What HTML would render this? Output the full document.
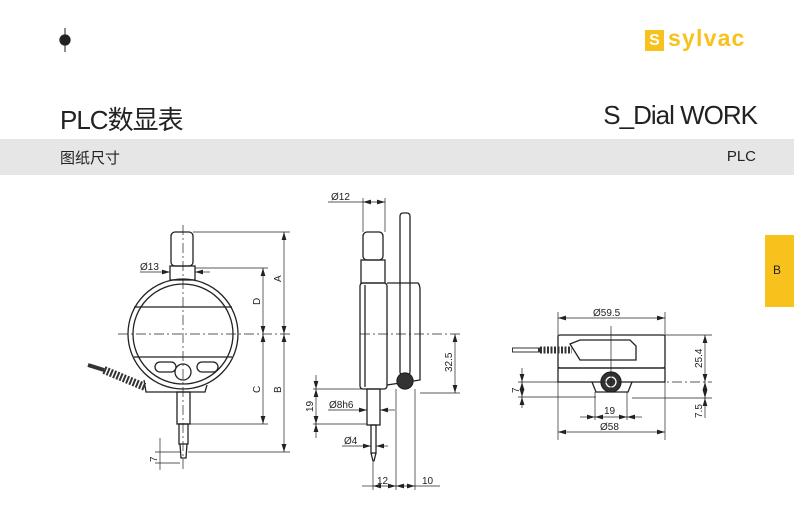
<!DOCTYPE html>
<html><head><meta charset="utf-8"><style>
body{margin:0;width:794px;height:506px;background:#fff;overflow:hidden;position:relative;font-family:"Liberation Sans","Noto Sans CJK SC",sans-serif}
.t{position:absolute;color:#222}
</style></head><body>
<div style="position:absolute;left:0;top:139px;width:794px;height:36px;background:#e6e6e6"></div>
<div class="t" style="left:60px;top:100px;font-size:26px;letter-spacing:-1px">PLC数显表</div>
<div class="t" style="right:37px;top:100px;font-size:26px;letter-spacing:-1px">S_Dial WORK</div>
<div class="t" style="left:60px;top:147px;font-size:15px">图纸尺寸</div>
<div class="t" style="right:38px;top:148px;font-size:15px">PLC</div>
<div style="position:absolute;left:765px;top:235px;width:29px;height:72px;background:#f7c21b"></div>
<div class="t" style="left:773px;top:263px;font-size:12px">B</div>
<div style="position:absolute;left:645px;top:30px;width:19px;height:21px;background:#f7c21b;color:#fff;font-size:16px;font-weight:bold;text-align:center;line-height:21px">S</div>
<div class="t" style="left:668px;top:25px;font-size:23px;font-weight:bold;color:#f7c21b;letter-spacing:1.2px">sylvac</div>
<svg width="794" height="506" style="position:absolute;left:0;top:0" font-family="Liberation Sans" font-size="10" fill="none" stroke="#222" stroke-width="1.3">
<defs><marker id="a" viewBox="0 0 10 6" refX="10" refY="3" markerWidth="8" markerHeight="5" markerUnits="userSpaceOnUse" orient="auto-start-reverse"><path d="M0 0 L10 3 L0 6 Z" fill="#222" stroke="none"/></marker></defs>
<line x1="65" y1="28" x2="65" y2="52" stroke-width="1"/><circle cx="65" cy="40" r="5" fill="#222"/>
<!-- front view -->
<rect x="171" y="232" width="22" height="34" rx="4"/>
<rect x="170" y="266" width="25" height="14"/>
<circle cx="183" cy="334" r="55"/><circle cx="183" cy="334" r="50"/>
<line x1="134" y1="307" x2="232" y2="307"/><line x1="134" y1="357" x2="232" y2="357"/>
<rect x="155" y="362" width="21" height="10" rx="5"/><rect x="197" y="362" width="21" height="10" rx="5"/>
<circle cx="183" cy="372" r="8"/>
<path d="M144 380 L146 392 L205 392 L207 385"/>
<path d="M88 365 L104 370" stroke-width="4" stroke="#333"/>
<path d="M104 370 L145 387" stroke-width="8" stroke="#333" stroke-dasharray="2 1.5"/>
<rect x="177" y="392" width="13" height="32"/><rect x="179" y="424" width="9" height="20"/>
<path d="M180 444 L181 458 L186 458 L187 444"/>
<g stroke-width="0.7" stroke-dasharray="10 3 2 3"><line x1="183" y1="225" x2="183" y2="470"/><line x1="118" y1="334" x2="290" y2="334"/></g>
<g stroke-width="0.7"><line x1="193" y1="232" x2="290" y2="232"/><line x1="195" y1="268" x2="268" y2="268"/><line x1="190" y1="424" x2="268" y2="424"/><line x1="188" y1="452" x2="290" y2="452"/>
<line x1="160" y1="438" x2="160" y2="470"/><line x1="155" y1="452" x2="180" y2="452"/><line x1="155" y1="463" x2="180" y2="463"/></g>
<g stroke-width="0.7" marker-start="url(#a)" marker-end="url(#a)">
<line x1="284" y1="232" x2="284" y2="334"/><line x1="284" y1="334" x2="284" y2="452"/>
<line x1="263" y1="268" x2="263" y2="334"/><line x1="263" y1="334" x2="263" y2="424"/>
<line x1="140" y1="272" x2="170" y2="272" marker-start="none"/><line x1="195" y1="272" x2="210" y2="272" marker-end="none"/>
</g>
<!-- side view -->
<rect x="363" y="232" width="20" height="28" rx="4"/>
<rect x="361" y="260" width="24" height="23"/>
<rect x="360" y="283" width="27" height="106" rx="3"/><line x1="365" y1="285" x2="365" y2="387"/>
<path d="M387 283 L418 283 Q420 285 420 290 L420 380 L387 385"/>
<rect x="400" y="213" width="10" height="162" rx="3"/>
<circle cx="405" cy="381" r="8" fill="#333"/>
<rect x="367" y="389" width="13" height="36"/><rect x="371" y="425" width="5" height="28"/><path d="M371 453 L373 461 L374 461 L376 453"/>
<g stroke-width="0.7"><line x1="363" y1="198" x2="363" y2="232"/><line x1="385" y1="198" x2="385" y2="232"/>
<line x1="360" y1="334" x2="460" y2="334" stroke-dasharray="10 3 2 3"/><line x1="420" y1="393" x2="460" y2="393"/>
<line x1="313" y1="389" x2="367" y2="389"/><line x1="313" y1="424" x2="367" y2="424"/>
<line x1="396" y1="389" x2="396" y2="490"/><line x1="415" y1="389" x2="415" y2="490"/><line x1="373" y1="462" x2="373" y2="490"/></g>
<g stroke-width="0.7" marker-start="url(#a)" marker-end="url(#a)">
<line x1="363" y1="202" x2="385" y2="202"/><line x1="328" y1="202" x2="363" y2="202" marker-start="none" marker-end="none"/>
<line x1="455" y1="334" x2="455" y2="393"/>
<line x1="316" y1="375" x2="316" y2="389" marker-start="none"/><line x1="316" y1="389" x2="316" y2="424"/><line x1="316" y1="424" x2="316" y2="438" marker-end="none"/>
<line x1="328" y1="410" x2="367" y2="410" marker-start="none"/><line x1="380" y1="410" x2="395" y2="410" marker-end="none"/>
<line x1="342" y1="446" x2="371" y2="446" marker-start="none"/><line x1="376" y1="446" x2="388" y2="446" marker-end="none"/>
<line x1="373" y1="486" x2="396" y2="486"/><line x1="396" y1="486" x2="415" y2="486"/><line x1="362" y1="486" x2="373" y2="486" marker-start="none" marker-end="none"/><line x1="415" y1="486" x2="440" y2="486" marker-start="none" marker-end="none"/>
</g>
<!-- top view -->
<rect x="558" y="335" width="107" height="33" rx="2"/><rect x="558" y="368" width="107" height="14"/>
<path d="M570 344 L580 340 L630 340 L636 346 L636 360 L580 360 Z"/>
<path d="M512 350 L540 350" stroke-width="5" stroke="#333"/><path d="M513 350 L538 350" stroke-width="3" stroke="#fff"/>
<path d="M540 350 L572 350" stroke-width="7" stroke="#333" stroke-dasharray="2 1.5"/>
<path d="M592 382 L596 392 L628 392 L632 382"/>
<circle cx="611" cy="382" r="10" fill="#333"/><circle cx="611" cy="382" r="5" stroke="#fff"/>
<g stroke-width="0.7"><line x1="558" y1="312" x2="558" y2="440"/><line x1="665" y1="312" x2="665" y2="440"/>
<line x1="665" y1="335" x2="712" y2="335"/><line x1="600" y1="382" x2="712" y2="382" stroke-dasharray="10 3 2 3"/><line x1="632" y1="398" x2="712" y2="398"/>
<line x1="518" y1="382" x2="558" y2="382"/><line x1="518" y1="397" x2="596" y2="397"/>
<line x1="595" y1="392" x2="595" y2="420"/><line x1="627" y1="392" x2="627" y2="420"/><line x1="611" y1="326" x2="611" y2="392"/></g>
<g stroke-width="0.7" marker-start="url(#a)" marker-end="url(#a)">
<line x1="558" y1="318" x2="665" y2="318"/><line x1="558" y1="432" x2="665" y2="432"/>
<line x1="705" y1="335" x2="705" y2="382"/><line x1="705" y1="382" x2="705" y2="398"/><line x1="705" y1="398" x2="705" y2="418" marker-end="none"/>
<line x1="522" y1="368" x2="522" y2="382" marker-start="none"/><line x1="522" y1="382" x2="522" y2="397"/><line x1="522" y1="397" x2="522" y2="408" marker-end="none"/>
<line x1="580" y1="417" x2="595" y2="417" marker-start="none"/><line x1="595" y1="417" x2="627" y2="417"/><line x1="627" y1="417" x2="642" y2="417" marker-end="none"/>
</g>
<g fill="#222" stroke="none" font-size="10">
<text x="140" y="270">Ø13</text>
<text transform="translate(281,282) rotate(-90)">A</text><text transform="translate(260,305) rotate(-90)">D</text>
<text transform="translate(260,393) rotate(-90)">C</text><text transform="translate(281,393) rotate(-90)">B</text>
<text transform="translate(157,462) rotate(-90)">7</text>
<text x="331" y="200">Ø12</text><text transform="translate(452,372) rotate(-90)">32.5</text>
<text transform="translate(313,412) rotate(-90)">19</text><text x="329" y="408">Ø8h6</text><text x="344" y="444">Ø4</text>
<text x="377" y="484">12</text><text x="422" y="484">10</text>
<text x="593" y="316">Ø59.5</text><text transform="translate(702,368) rotate(-90)">25.4</text>
<text transform="translate(702,418) rotate(-90)">7.5</text><text transform="translate(519,393) rotate(-90)">7</text>
<text x="604" y="414">19</text><text x="600" y="430">Ø58</text>
</g>
</svg>
</body></html>
